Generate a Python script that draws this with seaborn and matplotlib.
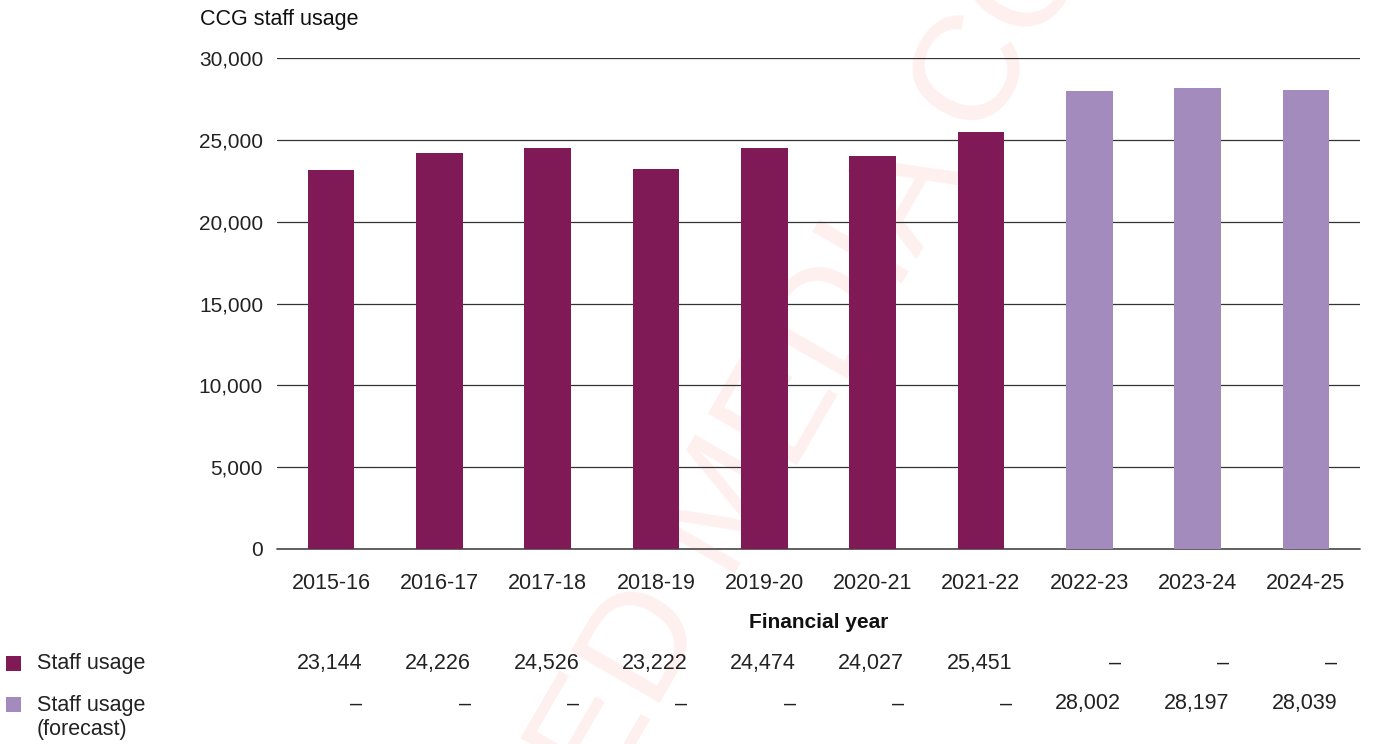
import numpy as np
import pandas as pd
import matplotlib
matplotlib.use("Agg")
import matplotlib.pyplot as plt
import matplotlib.transforms as mtransforms
from matplotlib.patches import Rectangle
from matplotlib.ticker import FuncFormatter, MultipleLocator
import seaborn as sns

# ---- data ----
years = ["2015-16", "2016-17", "2017-18", "2018-19", "2019-20",
         "2020-21", "2021-22", "2022-23", "2023-24", "2024-25"]
staff_usage = [23144, 24226, 24526, 23222, 24474, 24027, 25451, np.nan, np.nan, np.nan]
staff_forecast = [np.nan, np.nan, np.nan, np.nan, np.nan, np.nan, np.nan, 28002, 28197, 28039]
series_names = ["Staff usage", "Staff usage\n(forecast)"]
colors = ["#7F1A56", "#A38BBE"]

title = "CCG staff usage"
xlabel = "Financial year"

# ---- build long-form table ----
rows = []
for y, a, b in zip(years, staff_usage, staff_forecast):
    if not np.isnan(a):
        rows.append((y, a, series_names[0]))
    if not np.isnan(b):
        rows.append((y, b, series_names[1]))
df = pd.DataFrame(rows, columns=["year", "value", "series"])

sns.set_theme(style="white")
plt.rcParams["font.family"] = ["Liberation Sans", "DejaVu Sans"]
text_color = "#222222"

W, H = 1375, 744
fig = plt.figure(figsize=(W / 100, H / 100), dpi=100)
fig.patch.set_facecolor("white")

left, right, top, bottom = 277, 1360, 58, 549
ax = fig.add_axes([left / W, 1 - bottom / H, (right - left) / W, (bottom - top) / H])
ax.set_facecolor("none")

# watermark
fig.text(675 / W, 1 - 600 / H, "EMBARGOED MEDIA COPY", rotation=60,
         ha="center", va="center", rotation_mode="anchor",
         fontsize=108, color="#fff0f0", zorder=-1)

sns.barplot(data=df, x="year", y="value", hue="series", order=years,
            hue_order=series_names, palette=colors, dodge=False,
            width=0.43, saturation=1, ax=ax, legend=False, zorder=3,
            linewidth=0, edgecolor="none")

ax.set_xlim(-0.5, len(years) - 0.5)
ax.set_ylim(0, 30000)
ax.yaxis.set_major_locator(MultipleLocator(5000))
ax.yaxis.set_major_formatter(FuncFormatter(lambda v, p: f"{int(v):,}"))
ax.yaxis.grid(True, color="#333333", linewidth=0.9)
ax.xaxis.grid(False)
ax.set_axisbelow(True)
ax.axhline(0, color="#555555", linewidth=1.3, zorder=2, clip_on=False)
for s in ax.spines.values():
    s.set_visible(False)
ax.tick_params(axis="y", length=0, pad=10, labelsize=15, labelcolor=text_color)
ax.tick_params(axis="x", length=0, pad=17, labelsize=15.5, labelcolor=text_color)
ax.set_xlabel("")
ax.set_ylabel("")

fig.text(200 / W, 1 - 20 / H, title, ha="left", va="center",
         fontsize=15.5, color="#111111")
fig.text((left + right) / 2 / W, 1 - 622 / H, xlabel, ha="center", va="center",
         fontsize=15, fontweight="bold", color="#111111")

# ---- data table below ----
trans = mtransforms.blended_transform_factory(ax.transData, fig.transFigure)
row_y = [663, 704]
for vals, yy in zip([staff_usage, staff_forecast], row_y):
    for i, v in enumerate(vals):
        lab = "–" if np.isnan(v) else f"{int(v):,}"
        ax.text(i + 0.29, 1 - yy / H, lab, transform=trans, ha="right",
                va="center", fontsize=15.5, color=text_color, clip_on=False)

label_y = [663, 717.5]
for name, col, yy, ly in zip(series_names, colors, row_y, label_y):
    fig.add_artist(Rectangle((6 / W, 1 - (yy + 8) / H), 15 / W, 15 / H,
                             transform=fig.transFigure, facecolor=col,
                             edgecolor="none"))
    fig.text(37 / W, 1 - ly / H, name, ha="left", va="center",
             fontsize=15.5, color=text_color, linespacing=1.25)

fig.savefig("out.png", dpi=100, facecolor="white")
